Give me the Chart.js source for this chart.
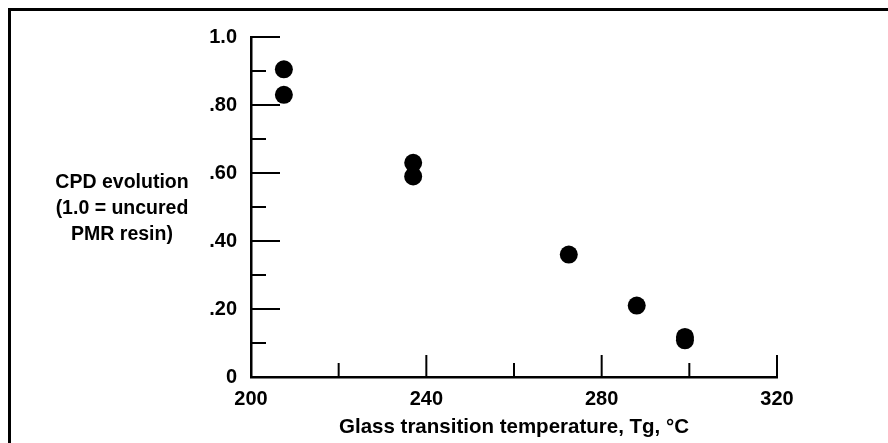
<!DOCTYPE html>
<html>
<head>
<meta charset="utf-8">
<title>CPD evolution vs glass transition temperature</title>
<script src="https://cdn.jsdelivr.net/npm/chart.js@4.4.0/dist/chart.umd.min.js"></script>
<style>
  html, body { margin: 0; padding: 0; background: #fff; }
  #wrap { position: relative; width: 888px; height: 443px; overflow: hidden; }
  #frame { position: absolute; left: 8px; top: 8px; right: -10px; bottom: -10px;
           border-top: 3px solid #000; border-left: 3px solid #000; pointer-events: none; }
</style>
</head>
<body>
<div id="wrap">
  <canvas id="chart" width="888" height="443"></canvas>
  <div id="frame"></div>
</div>
<script>
const tgValues = [207.5, 207.5, 237, 237, 272.5, 288, 299, 299];
const cpdValues = [0.905, 0.83, 0.63, 0.59, 0.36, 0.21, 0.118, 0.108];

const xMajorTicks = [200, 240, 280, 320];
const xMinorTicks = [220, 260, 300];
const yMajorTicks = [0, 0.2, 0.4, 0.6, 0.8, 1.0];
const yTickLabels = ['0', '.20', '.40', '.60', '.80', '1.0'];
const yMinorTicks = [0.1, 0.3, 0.5, 0.7, 0.9];

const xTitle = 'Glass transition temperature, Tg, °C';
const yTitleLines = ['CPD evolution', '(1.0 = uncured', 'PMR resin)'];

const FAMILY = '"Liberation Sans", Arial, Helvetica, sans-serif';
const TICK_FONT = { family: FAMILY, size: 20, weight: 'bold' };
const TITLE_FONT = { family: FAMILY, size: 20.5, weight: 'bold' };
const YTITLE_SIZE = 19.5;

// small tick marks drawn inward from the axes, like the printed figure
const tickMarks = {
  id: 'tickMarks',
  beforeDatasetsDraw(chart) {
    const { ctx, scales: { x, y } } = chart;
    const x0 = x.getPixelForValue(200);
    const y0 = y.getPixelForValue(0);
    ctx.save();
    ctx.strokeStyle = '#000';
    ctx.lineWidth = 2;
    const seg = (ax, ay, bx, by) => { ctx.beginPath(); ctx.moveTo(ax, ay); ctx.lineTo(bx, by); ctx.stroke(); };
    yMajorTicks.forEach(v => { if (v > 0) { const p = y.getPixelForValue(v); seg(x0, p, x0 + 29, p); } });
    yMinorTicks.forEach(v => { const p = y.getPixelForValue(v); seg(x0, p, x0 + 15, p); });
    xMajorTicks.forEach(v => { if (v > 200) { const p = x.getPixelForValue(v); seg(p, y0, p, y0 - 22); } });
    xMinorTicks.forEach(v => { const p = x.getPixelForValue(v); seg(p, y0, p, y0 - 14); });
    ctx.restore();
  }
};

// horizontal three-line y title to the left of the tick labels
const yTitle = {
  id: 'yTitle',
  afterDraw(chart) {
    const { ctx, scales: { y } } = chart;
    const mid = y.getPixelForValue(0.5) + 2;
    ctx.save();
    ctx.fillStyle = '#000';
    ctx.font = `bold ${YTITLE_SIZE}px ${FAMILY}`;
    ctx.textAlign = 'center';
    ctx.textBaseline = 'middle';
    yTitleLines.forEach((t, i) => ctx.fillText(t, 122, mid + (i - 1) * 26));
    ctx.restore();
  }
};

new Chart(document.getElementById('chart'), {
  type: 'scatter',
  data: {
    datasets: [{
      label: 'CPD evolution',
      data: tgValues.map((t, i) => ({ x: t, y: cpdValues[i] })),
      pointRadius: 9,
      pointHoverRadius: 9,
      pointBackgroundColor: '#000',
      pointBorderWidth: 0,
      clip: false
    }]
  },
  options: {
    responsive: false,
    animation: false,
    layout: { padding: { left: 0, top: 37, right: 111, bottom: 0 } },
    plugins: { legend: { display: false }, tooltip: { enabled: false } },
    scales: {
      x: {
        type: 'linear',
        min: 200,
        max: 320,
        afterBuildTicks: s => { s.ticks = xMajorTicks.map(v => ({ value: v })); },
        afterFit: s => { s.height = 66; },
        grid: { display: false },
        border: { display: true, color: '#000', width: 2.5 },
        ticks: { color: '#000', font: TICK_FONT, padding: 2, maxRotation: 0, autoSkip: false,
                 callback: v => String(v) },
        title: { display: true, text: xTitle, color: '#000', font: TITLE_FONT, padding: { top: 2, bottom: 3 } }
      },
      y: {
        type: 'linear',
        min: 0,
        max: 1,
        afterBuildTicks: s => { s.ticks = yMajorTicks.map(v => ({ value: v })); },
        afterFit: s => { s.width = 251; },
        grid: { display: false },
        border: { display: true, color: '#000', width: 2.5 },
        ticks: { color: '#000', font: TICK_FONT, padding: 6, autoSkip: false,
                 callback: v => yTickLabels[yMajorTicks.findIndex(t => Math.abs(t - v) < 1e-6)] }
      }
    }
  },
  plugins: [tickMarks, yTitle]
});
</script>
</body>
</html>
